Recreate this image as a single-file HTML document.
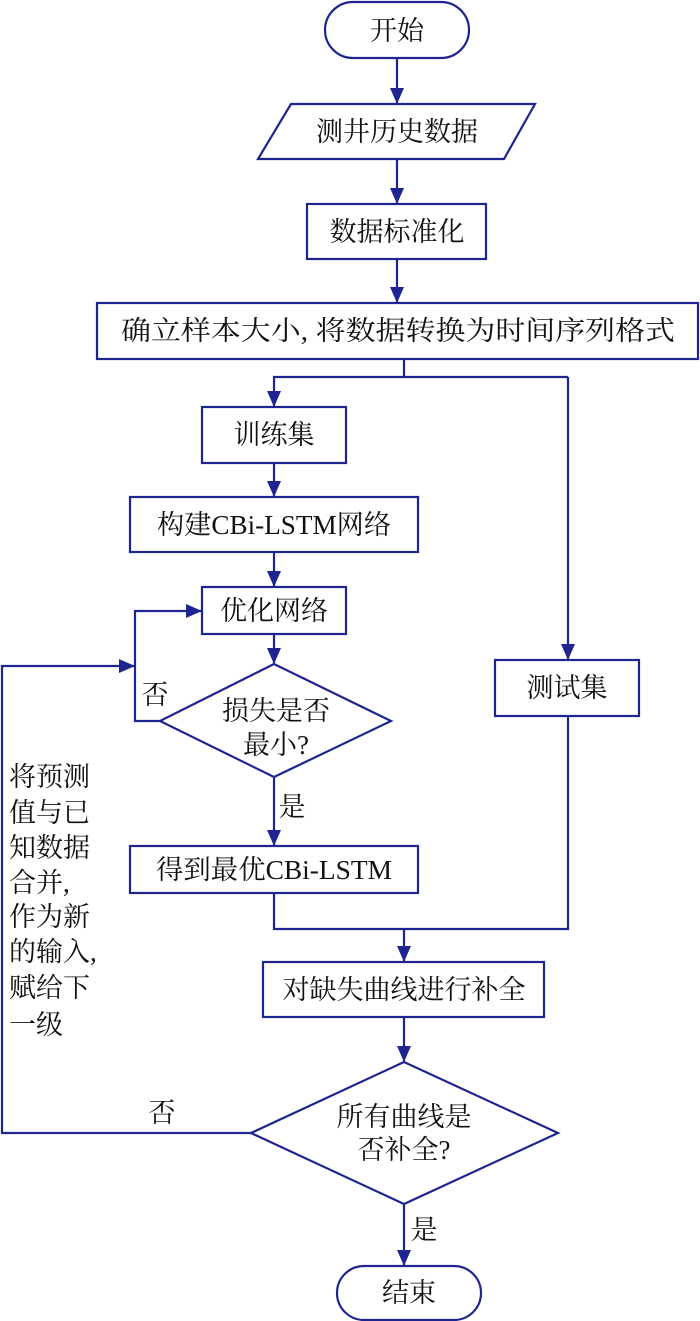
<!DOCTYPE html>
<html><head><meta charset="utf-8"><style>
html,body{margin:0;padding:0;background:#fff}
svg{display:block}
text{font-family:"Liberation Serif","Noto Serif CJK SC",serif;font-size:27px;fill:#111;text-anchor:middle;dominant-baseline:central}
</style></head><body>
<svg width="700" height="1321" viewBox="0 0 700 1321" xmlns="http://www.w3.org/2000/svg">
<defs>
<marker id="a" markerWidth="16" markerHeight="22" refX="15" refY="7" orient="auto" markerUnits="userSpaceOnUse" viewBox="0 0 16 14">
<path d="M0,0 L16,7 L0,14 Z" fill="#1f2590"/>
</marker>
</defs>
<g fill="none" stroke="#1f2590" stroke-width="2.2">
<rect x="325" y="2" width="144" height="56" rx="28"/>
<polygon points="291,104 535,104 504,159 258,159"/>
<rect x="307" y="204" width="179" height="55"/>
<rect x="97" y="303" width="601" height="56"/>
<rect x="202" y="407" width="144" height="56"/>
<rect x="130" y="497" width="288" height="55"/>
<rect x="202" y="587" width="144" height="47"/>
<polygon points="274,664 391,721 274,777 160,721"/>
<rect x="130" y="846" width="288" height="47"/>
<rect x="495" y="660" width="144" height="56"/>
<rect x="263" y="962" width="281" height="55"/>
<polygon points="404,1062 558,1133 404,1204 251,1133"/>
<rect x="337" y="1266" width="144" height="54" rx="27"/>

<line x1="397" y1="58" x2="397" y2="103" marker-end="url(#a)"/>
<line x1="397" y1="159" x2="397" y2="203" marker-end="url(#a)"/>
<line x1="397" y1="259" x2="397" y2="302" marker-end="url(#a)"/>
<polyline points="404,359 404,377"/>
<polyline points="568,377 274,377 274,406" marker-end="url(#a)"/>
<polyline points="568,377 568,659" marker-end="url(#a)"/>
<line x1="274" y1="463" x2="274" y2="496" marker-end="url(#a)"/>
<line x1="274" y1="552" x2="274" y2="586" marker-end="url(#a)"/>
<line x1="274" y1="634" x2="274" y2="663" marker-end="url(#a)"/>
<polyline points="160,721 135,721 135,611 201,611" marker-end="url(#a)"/>
<polyline points="251,1133 2,1133 2,666 134,666" marker-end="url(#a)"/>
<line x1="274" y1="777" x2="274" y2="845" marker-end="url(#a)"/>
<polyline points="274,893 274,929 568,929 568,716"/>
<line x1="404" y1="929" x2="404" y2="961" marker-end="url(#a)"/>
<line x1="404" y1="1017" x2="404" y2="1061" marker-end="url(#a)"/>
<line x1="404" y1="1204" x2="404" y2="1265" marker-end="url(#a)"/>
</g>
<text x="397" y="31">开始</text>
<text x="397" y="132">测井历史数据</text>
<text x="397" y="232">数据标准化</text>
<text x="398" y="331" textLength="554" lengthAdjust="spacingAndGlyphs">确立样本大小, 将数据转换为时间序列格式</text>
<text x="274" y="435">训练集</text>
<text x="274" y="525" textLength="234" lengthAdjust="spacingAndGlyphs">构建CBi-LSTM网络</text>
<text x="274" y="611">优化网络</text>
<text x="276" y="711">损失是否</text>
<text x="276" y="745">最小?</text>
<text x="155" y="695">否</text>
<text x="292" y="807">是</text>
<text x="274" y="870" textLength="236" lengthAdjust="spacingAndGlyphs">得到最优CBi-LSTM</text>
<text x="567" y="688">测试集</text>
<text x="404" y="990">对缺失曲线进行补全</text>
<text x="404" y="1117">所有曲线是</text>
<text x="404" y="1150">否补全?</text>
<text x="162" y="1113">否</text>
<text x="424" y="1230">是</text>
<text x="409" y="1293">结束</text>
<g style="text-anchor:start">
<text x="9" y="777" style="text-anchor:start">将预测</text>
<text x="9" y="813" style="text-anchor:start">值与已</text>
<text x="9" y="848" style="text-anchor:start">知数据</text>
<text x="9" y="883" style="text-anchor:start">合并,</text>
<text x="9" y="917" style="text-anchor:start">作为新</text>
<text x="9" y="952" style="text-anchor:start">的输入,</text>
<text x="9" y="988" style="text-anchor:start">赋给下</text>
<text x="9" y="1025" style="text-anchor:start">一级</text>
</g>
</svg>
</body></html>
